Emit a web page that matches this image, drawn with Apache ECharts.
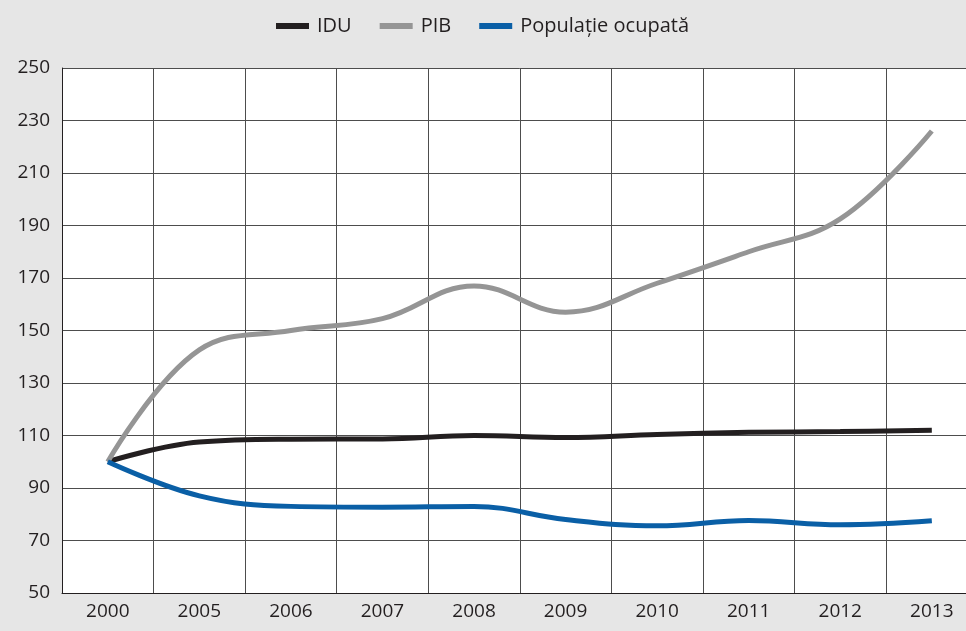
<!DOCTYPE html>
<html>
<head>
<meta charset="utf-8">
<script src="https://cdn.jsdelivr.net/npm/echarts@6/dist/echarts.min.js"></script>
<style>
  html, body { margin: 0; padding: 0; background: #e6e6e6; overflow: hidden; }
  #chart { width: 980px; height: 631px; }
</style>
</head>
<body>
<div id="chart"></div>
<script>
const years = ['2000', '2005', '2006', '2007', '2008', '2009', '2010', '2011', '2012', '2013'];
const idu = [100, 107.5, 108.6, 108.7, 110, 109.2, 110.4, 111.2, 111.5, 112];
const pib = [100, 142.6, 150, 154.5, 167, 157, 168, 180, 192.5, 226];
const populatie = [100, 87, 83, 82.7, 83, 78, 75.6, 77.6, 76, 77.5];
const yTicks = { min: 50, max: 250, step: 20 };

const font = '"Liberation Sans Narrow", "Open Sans", sans-serif';
const textColor = '#231f20';

const chart = echarts.init(document.getElementById('chart'));

function line(name, data, color) {
  return {
    name,
    type: 'line',
    data,
    smooth: 0.4,
    symbol: 'none',
    lineStyle: { width: 5, color, cap: 'butt' },
    itemStyle: { color },
    z: 3
  };
}

chart.setOption({
  backgroundColor: '#e6e6e6',
  animation: false,
  textStyle: { fontFamily: font },
  legend: {
    top: 11,
    left: 271,
    itemWidth: 33,
    itemHeight: 6,
    itemGap: 28,
    icon: 'rect',
    textStyle: { fontFamily: font, fontSize: 20, color: textColor, padding: [0, 0, 0, 3] },
    data: ['IDU', 'PIB', 'Populație ocupată']
  },
  grid: { left: 62, top: 68, width: 915.6, height: 525, backgroundColor: '#fff', show: true, borderWidth: 0 },
  xAxis: {
    type: 'category',
    data: years,
    boundaryGap: true,
    axisLine: { lineStyle: { color: '#231f20', width: 1 } },
    axisTick: { show: false },
    splitLine: { show: true, lineStyle: { color: '#4d4d4d', width: 1 } },
    axisLabel: { fontFamily: font, fontSize: 19, color: textColor, margin: 9 }
  },
  yAxis: {
    type: 'value',
    min: yTicks.min,
    max: yTicks.max,
    interval: yTicks.step,
    axisLine: { show: true, lineStyle: { color: '#231f20', width: 1 } },
    axisTick: { show: false },
    splitLine: { show: true, lineStyle: { color: '#4d4d4d', width: 1 } },
    axisLabel: { fontFamily: font, fontSize: 19, color: textColor, margin: 12 }
  },
  series: [
    line('IDU', idu, '#231f20'),
    line('PIB', pib, '#959595'),
    line('Populație ocupată', populatie, '#0a5fa6')
  ]
});
</script>
</body>
</html>
